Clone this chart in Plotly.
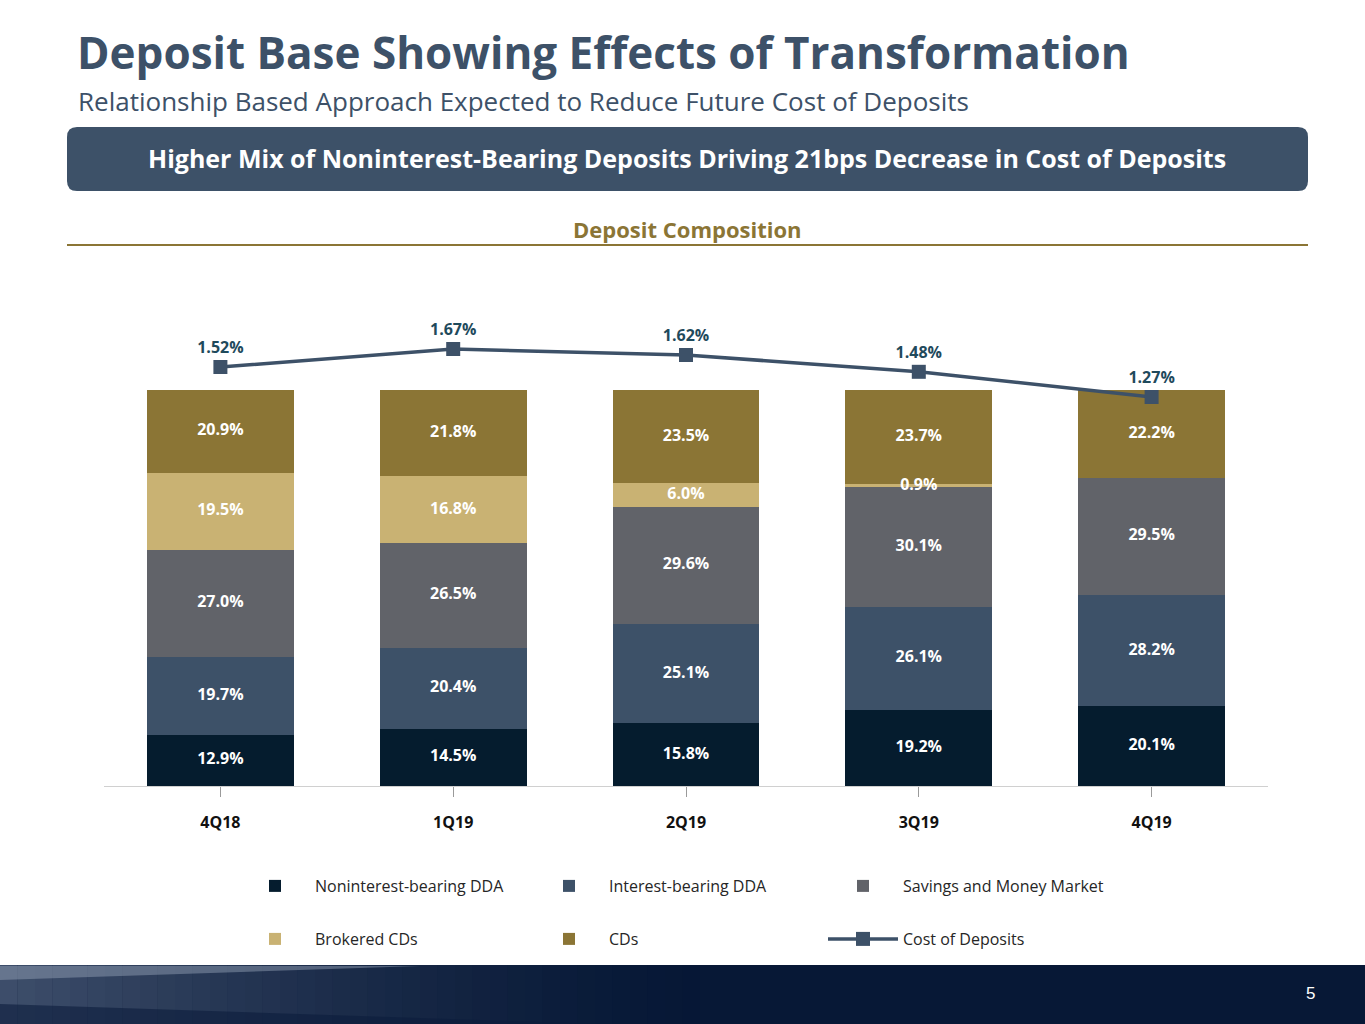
import plotly.graph_objects as go

W, H = 1365, 1024

quarters = ["4Q18", "1Q19", "2Q19", "3Q19", "4Q19"]
noninterest_dda = [12.9, 14.5, 15.8, 19.2, 20.1]
interest_dda = [19.7, 20.4, 25.1, 26.1, 28.2]
savings_mm = [27.0, 26.5, 29.6, 30.1, 29.5]
brokered_cds = [19.5, 16.8, 6.0, 0.9, 0.0]
cds = [20.9, 21.8, 23.5, 23.7, 22.2]
cost_of_deposits = [1.52, 1.67, 1.62, 1.48, 1.27]

series = [
    ("Noninterest-bearing DDA", noninterest_dda, "#051c2e", "legend"),
    ("Interest-bearing DDA", interest_dda, "#3d5168", "legend"),
    ("Savings and Money Market", savings_mm, "#616369", "legend"),
    ("Brokered CDs", brokered_cds, "#c9b273", "legend2"),
    ("CDs", cds, "#8b7535", "legend2"),
]

FONT = "Open Sans"
NAVY = "#3d5168"


def px(x):
    return x / W


def py(y):
    return 1 - y / H


fig = go.Figure()

label_x, label_y, label_text = [], [], []
base = [0.0] * len(quarters)
for name, vals, color, leg in series:
    fig.add_trace(
        go.Bar(
            x=quarters,
            y=vals,
            name=name,
            marker=dict(color=color, line=dict(width=0)),
            legend=leg,
        )
    )
    # segment labels, collected so they can sit on top of every bar
    for i, v in enumerate(vals):
        if v:
            label_x.append(quarters[i])
            label_y.append(base[i] + v / 2)
            label_text.append(f"{v:.1f}%")
        base[i] += v

fig.add_trace(
    go.Scatter(
        x=label_x,
        y=label_y,
        text=label_text,
        mode="text",
        textposition="middle center",
        textfont=dict(family=FONT, size=16, color="white", weight="bold"),
        showlegend=False,
        hoverinfo="skip",
    )
)

# cost of deposits line on a hidden secondary axis
fig.add_trace(
    go.Scatter(
        x=quarters,
        y=cost_of_deposits,
        name="Cost of Deposits",
        mode="lines+markers+text",
        line=dict(color=NAVY, width=3.5),
        marker=dict(symbol="square", size=14, color=NAVY),
        text=[f"{v:.2f}%" for v in cost_of_deposits],
        textposition="top center",
        textfont=dict(family=FONT, size=16, color="#1f4a5c", weight="bold"),
        yaxis="y2",
        legend="legend2",
    )
)

shapes = []
# banner
x0, x1, y0, y1, r = 67, 1308, 127, 191, 10
shapes.append(
    dict(
        type="path",
        xref="paper",
        yref="paper",
        path=(
            f"M {px(x0 + r)} {py(y0)} L {px(x1 - r)} {py(y0)} Q {px(x1)} {py(y0)} {px(x1)} {py(y0 + r)} "
            f"L {px(x1)} {py(y1 - r)} Q {px(x1)} {py(y1)} {px(x1 - r)} {py(y1)} "
            f"L {px(x0 + r)} {py(y1)} Q {px(x0)} {py(y1)} {px(x0)} {py(y1 - r)} "
            f"L {px(x0)} {py(y0 + r)} Q {px(x0)} {py(y0)} {px(x0 + r)} {py(y0)} Z"
        ),
        fillcolor=NAVY,
        line=dict(width=0),
    )
)
# gold rule under section title
shapes.append(
    dict(type="line", xref="paper", yref="paper", x0=px(67), x1=px(1308), y0=py(245), y1=py(245),
         line=dict(color="#8b7535", width=2))
)
# footer band
shapes.append(
    dict(type="rect", xref="paper", yref="paper", x0=0, x1=1, y0=0, y1=py(965),
         fillcolor="#071836", line=dict(width=0), layer="below")
)
# left gradient of footer
steps = 40
for i in range(steps):
    t = i / steps
    shapes.append(
        dict(type="rect", xref="paper", yref="paper", x0=px(700 * t), x1=px(700 * (t + 1 / steps)),
             y0=0, y1=py(965), fillcolor="#6a7a96", opacity=0.55 * (1 - t) ** 1.5,
             line=dict(width=0), layer="below")
    )
shapes.append(
    dict(type="path", xref="paper", yref="paper",
         path=f"M 0 {py(966)} L {px(420)} {py(966)} L 0 {py(980)} Z",
         fillcolor="#9aa6bb", opacity=0.45, line=dict(width=0), layer="below")
)
shapes.append(
    dict(type="path", xref="paper", yref="paper",
         path=f"M 0 {py(1004)} L {px(600)} {py(1024)} L 0 {py(1024)} Z",
         fillcolor="#0b1c3c", opacity=0.6, line=dict(width=0), layer="below")
)


def note(text, x, y, size, color, anchor="left", bold=False, family=FONT):
    return dict(text=text, x=px(x), y=py(y), xref="paper", yref="paper", xanchor=anchor,
                yanchor="middle", showarrow=False,
                font=dict(family=family, size=size, color=color, weight="bold" if bold else "normal"))


annotations = [
    note("Deposit Base Showing Effects of Transformation", 75, 52, 44, NAVY, bold=True),
    note("Relationship Based Approach Expected to Reduce Future Cost of Deposits", 76, 101, 26, NAVY),
    note("Higher Mix of Noninterest-Bearing Deposits Driving 21bps Decrease in Cost of Deposits",
         687, 158, 25, "white", anchor="center", bold=True),
    note("Deposit Composition", 687, 229, 22, "#8b7535", anchor="center", bold=True),
    note("5", 1310, 993, 17, "white", anchor="center", family="Liberation Sans"),
]

legend_common = dict(
    orientation="h",
    xanchor="left",
    yanchor="middle",
    font=dict(family=FONT, size=16, color="#262626"),
    itemwidth=70,
    entrywidth=209,
    bgcolor="rgba(0,0,0,0)",
    itemclick=False,
    traceorder="normal",
)

fig.update_layout(
    width=W,
    height=H,
    margin=dict(l=0, r=0, t=0, b=0),
    paper_bgcolor="white",
    plot_bgcolor="white",
    barmode="stack",
    bargap=0.37,
    showlegend=True,
    xaxis=dict(
        domain=[px(104), px(1268)],
        showline=True,
        linecolor="#d0d0d0",
        linewidth=1,
        ticks="outside",
        ticklen=10,
        tickcolor="#9a9a9a",
        ticklabelstandoff=12,
        tickfont=dict(family=FONT, size=16, color="#111111", weight="bold"),
        showgrid=False,
        fixedrange=True,
    ),
    yaxis=dict(
        domain=[py(786), py(300)],
        range=[0, (786 - 300) / 3.96],
        visible=False,
        showgrid=False,
        zeroline=False,
    ),
    yaxis2=dict(
        overlaying="y",
        range=[1.27 - (786 - 397) / 120, 1.27 + (397 - 300) / 120],
        visible=False,
        showgrid=False,
        zeroline=False,
    ),
    legend=dict(x=px(235), y=py(886), **legend_common),
    legend2=dict(x=px(235), y=py(939), **legend_common),
    shapes=shapes,
    annotations=annotations,
)

fig.write_html(
    "out.html",
    config={"displayModeBar": False},
    post_script="document.body.style.margin = '0';",
)
